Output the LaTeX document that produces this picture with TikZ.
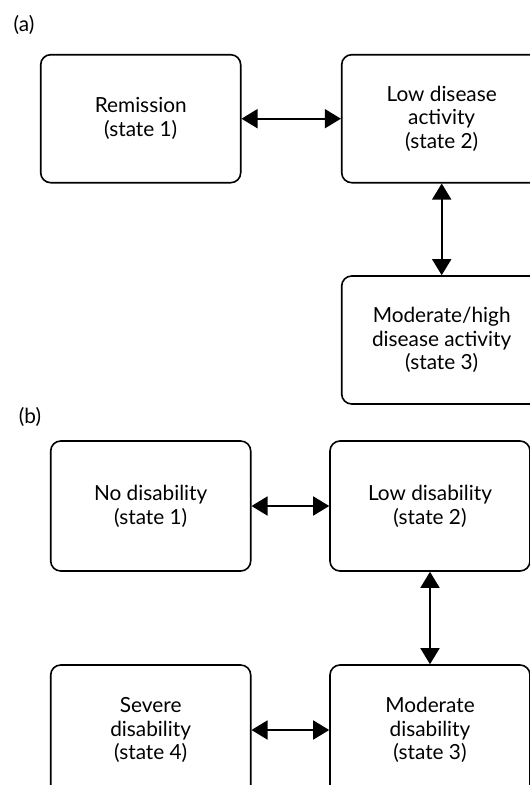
\documentclass[tikz,border=0pt]{standalone}
\usepackage{fontspec}
\setmainfont{Lato}
\usetikzlibrary{arrows.meta}

\begin{document}
\begin{tikzpicture}[
    x=1pt,y=-1pt,
    state/.style={draw,line width=1.6pt,rounded corners=10pt,align=center,
      minimum width=200pt,minimum height=128pt,inner sep=0pt,
      font=\fontsize{20.8}{23.8}\selectfont},
    link/.style={line width=1.6pt,{Triangle[length=16pt,width=19pt]}-{Triangle[length=16pt,width=19pt]}},
    tag/.style={font=\fontsize{20.8}{23.8}\selectfont}
    ]
    \useasboundingbox (0,0) rectangle (530,785);
    % (a)
    \node[tag] (taga) at (24,25) {(a)};
    \node[state] (remission) at (140.7,118.7) {Remission\\(state 1)};
    \node[state] (lowact) at (441.7,118.7) {Low disease\\activity\\(state 2)};
    \node[state] (modact) at (441.7,340) {Moderate/high\\disease activity\\(state 3)};
    \draw[link] (remission) -- (lowact);
    \draw[link] (lowact) -- (modact);
    % (b)
    \node[tag] (tagb) at (30,417) {(b)};
    \node[state,minimum height=130pt] (nodis) at (150.7,506) {No disability\\(state 1)};
    \node[state,minimum height=130pt] (lowdis) at (430,506) {Low disability\\(state 2)};
    \node[state,minimum height=130pt] (moddis) at (430,730) {Moderate\\disability\\(state 3)};
    \node[state,minimum height=130pt] (sevdis) at (150.7,730) {Severe\\disability\\(state 4)};
    \draw[link] (nodis) -- (lowdis);
    \draw[link] (lowdis) -- (moddis);
    \draw[link] (sevdis) -- (moddis);
  \end{tikzpicture}
\end{document}
